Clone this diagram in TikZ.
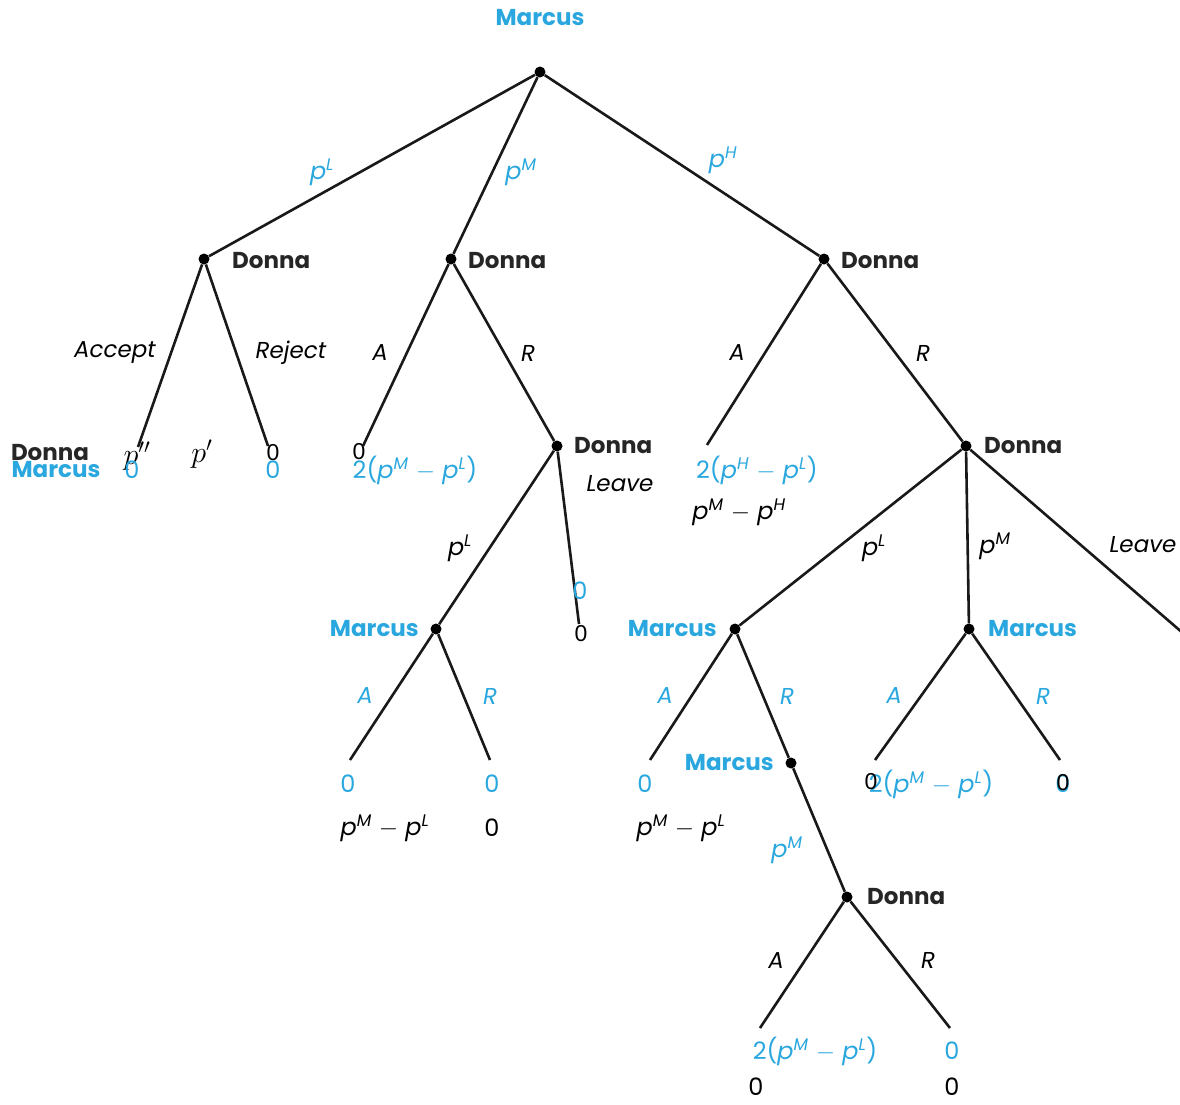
\documentclass[tikz,border=0pt]{standalone}
\usepackage{fontspec}
\setmainfont{Poppins}
\newfontfamily\arialf{Liberation Sans}
\definecolor{mblue}{RGB}{41,167,222}
\newcommand{\pq}[1]{\textit{p}\textsuperscript{\textit{#1}}}
\newcommand{\mdiff}[2]{\pq{#1}\hspace{0.3em}$-$\hspace{0.3em}\pq{#2}}
\tikzset{
  dot/.style={circle,fill=black,inner sep=0pt,minimum size=11pt},
  edge/.style={line width=2.6pt,black!90},
  pname/.style={font=\fontsize{23}{27}\selectfont\bfseries,inner sep=0pt},
  bname/.style={pname,text=mblue},
  kname/.style={pname,text=black!85},
  elab/.style={font=\fontsize{23}{27}\selectfont\itshape,inner sep=0pt},
  belab/.style={elab,text=mblue},
  pay/.style={font=\fontsize{24}{28}\selectfont,inner sep=0pt},
  bpay/.style={pay,text=mblue},
  kpay/.style={pay,text=black},
  azero/.style={font=\fontsize{23}{27}\selectfont\arialf,inner sep=0pt,text=black},
  mathp/.style={font=\fontsize{20}{24}\selectfont,inner sep=0pt,scale=1.45}
}
\begin{document}
\begin{tikzpicture}[x=1pt,y=-1pt]
\useasboundingbox (0,0) rectangle (1180,1104);
\clip (0,0) rectangle (1180,1104);
% decision nodes
\node[dot] (r) at (540,72) {};
\node[dot] (d1) at (204,259) {};
\node[dot] (d2) at (451,259) {};
\node[dot] (d3) at (824,259) {};
\node[dot] (d4) at (557,446) {};
\node[dot] (d5) at (966,446) {};
\node[dot] (m1) at (436,629) {};
\node[dot] (m2) at (735,629) {};
\node[dot] (m3) at (969,629) {};
\node[dot] (m4) at (791,763) {};
\node[dot] (d6) at (847,897) {};
% leaf ends
\coordinate (l1) at (138,447);
\coordinate (l2) at (268,446);
\coordinate (l3) at (363,446);
\coordinate (l4) at (707,445);
\coordinate (l5) at (579,624);
\coordinate (l6) at (350,760);
\coordinate (l7) at (490,760);
\coordinate (l8) at (650,760);
\coordinate (l9) at (875,760);
\coordinate (l10) at (1060,760);
\coordinate (l11) at (1184,634);
\coordinate (l12) at (760,1028);
\coordinate (l13) at (950,1028);
% edges
\draw[edge] (r) -- (d1);
\draw[edge] (r) -- (d2);
\draw[edge] (r) -- (d3);
\draw[edge] (d1) -- (l1);
\draw[edge] (d1) -- (l2);
\draw[edge] (d2) -- (l3);
\draw[edge] (d2) -- (d4);
\draw[edge] (d3) -- (l4);
\draw[edge] (d3) -- (d5);
\draw[edge] (d4) -- (m1);
\draw[edge] (d4) -- (l5);
\draw[edge] (m1) -- (l6);
\draw[edge] (m1) -- (l7);
\draw[edge] (d5) -- (m2);
\draw[edge] (d5) -- (m3);
\draw[edge] (d5) -- (l11);
\draw[edge] (m2) -- (l8);
\draw[edge] (m2) -- (m4);
\draw[edge] (m4) -- (d6);
\draw[edge] (d6) -- (l12);
\draw[edge] (d6) -- (l13);
\draw[edge] (m3) -- (l9);
\draw[edge] (m3) -- (l10);
% player labels
\node[bname] (nr) at (540,18) {Marcus};
\node[kname,anchor=west] (nd1) at (232,261) {Donna};
\node[kname,anchor=west] (nd2) at (468,261) {Donna};
\node[kname,anchor=west] (nd3) at (841,261) {Donna};
\node[kname,anchor=west] (nd4) at (574,446) {Donna};
\node[kname,anchor=west] (nd5) at (984,446) {Donna};
\node[bname,anchor=east] (nm1) at (419,629) {Marcus};
\node[bname,anchor=east] (nm2) at (717,629) {Marcus};
\node[bname,anchor=west] (nm3) at (988,629) {Marcus};
\node[bname,anchor=east] (nm4) at (774,763) {Marcus};
\node[kname,anchor=west] (nd6) at (867,897) {Donna};
% edge labels
\node[bpay] (e1) at (322,172) {\pq{L}};
\node[bpay] (e2) at (521,172) {\pq{M}};
\node[bpay] (e3) at (723,160) {\pq{H}};
\node[elab] (e4) at (115,353) {Accept};
\node[elab] (e5) at (291,353) {Reject};
\node[elab] (e6) at (380,353) {A};
\node[elab] (e7) at (528,353) {R};
\node[elab] (e8) at (737,353) {A};
\node[elab] (e9) at (923,353) {R};
\node[elab] (e10) at (620,484) {Leave};
\node[kpay] (e11) at (460,548) {\pq{L}};
\node[kpay] (e12) at (874,548) {\pq{L}};
\node[kpay] (e13) at (995,546) {\pq{M}};
\node[elab] (e14) at (1143,545) {Leave};
\node[belab] (e15) at (365,696) {A};
\node[belab] (e16) at (490,696) {R};
\node[belab] (e17) at (665,696) {A};
\node[belab] (e18) at (787,696) {R};
\node[belab] (e19) at (894,696) {A};
\node[belab] (e20) at (1043,696) {R};
\node[bpay] (e21) at (787,850) {\pq{M}};
\node[elab] (e22) at (776,961) {A};
\node[elab] (e23) at (928,960) {R};
% payoffs
\node[kname] (k1) at (50,453) {Donna};
\node[bname] (k2) at (56,470) {Marcus};
\node[mathp] (k3) at (137,456) {$p''$};
\node[mathp] (k4) at (202,454) {$p'$};
\node[bpay] (k5) at (132,470) {0};
\node[azero] (k6) at (273,453) {0};
\node[bpay] (k7) at (273,470) {0};
\node[azero] (k8) at (359,452) {0};
\node[bpay] (k9) at (415,470) {2(\mdiff{M}{L})};
\node[bpay] (k10) at (757,470) {2(\mdiff{H}{L})};
\node[kpay] (k11) at (739,512) {\mdiff{M}{H}};
\node[bpay] (k12) at (580,591) {0};
\node[azero] (k13) at (581,634) {0};
\node[bpay] (k14) at (348,784) {0};
\node[kpay] (k15) at (385,828) {\mdiff{M}{L}};
\node[bpay] (k16) at (492,784) {0};
\node[kpay] (k17) at (492,828) {0};
\node[bpay] (k18) at (645,784) {0};
\node[kpay] (k19) at (681,828) {\mdiff{M}{L}};
\node[bpay] (k20) at (931,784) {2(\mdiff{M}{L})};
\node[azero] (k21) at (871,782) {0};
\node[bpay] (k22) at (1063,784) {0};
\node[azero] (k23) at (1063,783) {0};
\node[bpay] (k24) at (1188,650) {0};
\node[bpay] (k25) at (815,1051) {2(\mdiff{M}{L})};
\node[kpay] (k26) at (756,1087) {0};
\node[bpay] (k27) at (952,1051) {0};
\node[kpay] (k28) at (952,1087) {0};
\end{tikzpicture}
\end{document}
